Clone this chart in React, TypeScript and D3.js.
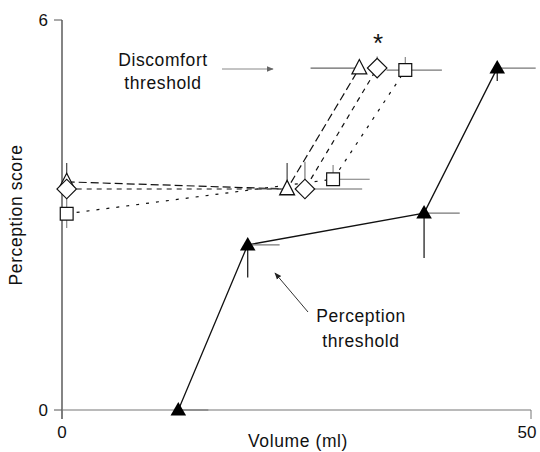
import React from "react";
import * as d3 from "d3";

// ---- data ----
const xTicks = [0, 50];
const yTicks = [0, 6];
const xLabel = "Volume (ml)";
const yLabel = "Perception score";

// Perception threshold (filled triangles)
const percX = [12.4, 19.8, 38.6, 46.4];
const percY = [0, 2.54, 3.03, 5.26];
const percXErrR = [3.2, 3.4, 3.8, 4.1];
const percYErrDown = [0, 0.5, 0.69, 0.2];

// Discomfort series – open triangle
const triX = [0.5, 24.0, 31.7];
const triY = [3.51, 3.4, 5.26];
const triYErrUp = [0.29, 0.4, 0];
const triXErrL = [0, 3.5, 5.2];

// Discomfort series – open diamond
const diaX = [0.5, 25.9, 33.6];
const diaY = [3.4, 3.4, 5.26];
const diaYErrUp = [0, 0.42, 0.18];
const diaXErrR = [0, 6.1, 0];

// Discomfort series – open square
const sqX = [0.5, 28.9, 36.6];
const sqY = [3.02, 3.55, 5.23];
const sqYErrUp = [0.38, 0.22, 0.2];
const sqYErrDown = [0.22, 0, 0];
const sqXErrR = [0, 3.9, 3.9];
const sqXErrL = [0, 0, 2.0];

const W = 540;
const H = 452;

const x = d3.scaleLinear().domain([0, 50]).range([62, 531]);
const y = d3.scaleLinear().domain([0, 6]).range([410, 20]);

const font = "'Liberation Sans', Arial, Helvetica, sans-serif";

type Pt = [number, number];
const zip = (a: number[], b: number[]): Pt[] => a.map((v, i) => [v, b[i]]);
const lineGen = d3
  .line<Pt>()
  .x((d) => x(d[0]))
  .y((d) => y(d[1]));

const triSym = d3.symbol().type(d3.symbolTriangle).size(95)()!;
const filledTriSym = d3.symbol().type(d3.symbolTriangle).size(105)()!;
const sqSym = d3.symbol().type(d3.symbolSquare).size(165)()!;
const diaSym = d3.symbol().type(d3.symbolSquare).size(190)()!;

function ErrorBars({
  xs,
  ys,
  up,
  down,
  left,
  right,
  vColor,
  hColor,
}: {
  xs: number[];
  ys: number[];
  up?: number[];
  down?: number[];
  left?: number[];
  right?: number[];
  vColor: string;
  hColor: string;
}) {
  return (
    <g>
      {xs.map((xv, i) => {
        const yv = ys[i];
        const els: React.ReactNode[] = [];
        const u = up ? up[i] : 0;
        const dn = down ? down[i] : 0;
        const l = left ? left[i] : 0;
        const r = right ? right[i] : 0;
        if (u || dn)
          els.push(
            <line
              key="v"
              x1={x(xv)}
              x2={x(xv)}
              y1={y(yv + u)}
              y2={y(yv - dn)}
              stroke={vColor}
              strokeWidth={1.2}
            />
          );
        if (l || r)
          els.push(
            <line
              key="h"
              x1={x(xv - l)}
              x2={x(xv + r)}
              y1={y(yv)}
              y2={y(yv)}
              stroke={hColor}
              strokeWidth={1.2}
            />
          );
        return <g key={i}>{els}</g>;
      })}
    </g>
  );
}

export default function App() {
  const triPts = zip(triX, triY);
  const diaPts = zip(diaX, diaY);
  const sqPts = zip(sqX, sqY);
  const percPts = zip(percX, percY);
  const txt = { fill: "#111", letterSpacing: 0.6 } as const;

  return (
    <svg
      width={W}
      height={H}
      style={{ position: "absolute", left: 0, top: 0, background: "#fff" }}
      fontFamily={font}
    >
      <defs>
        <marker
          id="ahGray"
          viewBox="0 0 10 10"
          refX="9"
          refY="5"
          markerWidth="7"
          markerHeight="7"
          orient="auto"
        >
          <path d="M0,1 L10,5 L0,9 z" fill="#666" />
        </marker>
        <marker
          id="ahDark"
          viewBox="0 0 10 10"
          refX="9"
          refY="5"
          markerWidth="7"
          markerHeight="7"
          orient="auto"
        >
          <path d="M0,1 L10,5 L0,9 z" fill="#222" />
        </marker>
      </defs>

      {/* axes */}
      <line x1={x(0)} x2={x(0)} y1={y(6)} y2={y(0) + 9} stroke="#333" strokeWidth={1.2} />
      <line x1={x(0)} x2={x(50)} y1={y(0)} y2={y(0)} stroke="#777" strokeWidth={1.2} />
      {yTicks.map((t) => (
        <g key={"yt" + t}>
          <line x1={x(0) - 8} x2={x(0)} y1={y(t)} y2={y(t)} stroke="#555" strokeWidth={1} />
          <text x={x(0) - 14} y={y(t)} dy="0.35em" textAnchor="end" fontSize={17} fill="#111">
            {t}
          </text>
        </g>
      ))}
      {xTicks.map((t) => (
        <g key={"xt" + t}>
          <line x1={x(t)} x2={x(t)} y1={y(0)} y2={y(0) + 9} stroke="#777" strokeWidth={1} />
          <text
            x={t === 50 ? x(t) - 4 : x(t)}
            y={y(0) + 28}
            textAnchor="middle"
            fontSize={17}
            fill="#111"
          >
            {t}
          </text>
        </g>
      ))}
      <text x={298} y={447} textAnchor="middle" fontSize={17.5} {...txt}>
        {xLabel}
      </text>
      <text
        transform="translate(22,215) rotate(-90)"
        textAnchor="middle"
        fontSize={17.5}
        {...txt}
      >
        {yLabel}
      </text>

      {/* connecting lines */}
      <path d={lineGen(triPts)!} fill="none" stroke="#111" strokeWidth={1.2} strokeDasharray="8,4" />
      <path d={lineGen(diaPts)!} fill="none" stroke="#111" strokeWidth={1.2} strokeDasharray="5,5" />
      <path d={lineGen(sqPts)!} fill="none" stroke="#111" strokeWidth={1.2} strokeDasharray="3,7" />
      <path d={lineGen(percPts)!} fill="none" stroke="#111" strokeWidth={1.3} />

      {/* error bars */}
      <ErrorBars xs={triX} ys={triY} up={triYErrUp} left={triXErrL} vColor="#444" hColor="#666" />
      <ErrorBars xs={diaX} ys={diaY} up={diaYErrUp} right={diaXErrR} vColor="#777" hColor="#666" />
      <ErrorBars
        xs={sqX}
        ys={sqY}
        up={sqYErrUp}
        down={sqYErrDown}
        left={sqXErrL}
        right={sqXErrR}
        vColor="#888"
        hColor="#777"
      />
      <ErrorBars
        xs={percX}
        ys={percY}
        down={percYErrDown}
        right={percXErrR}
        vColor="#111"
        hColor="#777"
      />

      {/* markers */}
      {triPts.map((d, i) => (
        <path
          key={"t" + i}
          d={triSym}
          transform={`translate(${x(d[0])},${y(d[1]) + 1}) scale(1,1.12)`}
          fill="#fff"
          stroke="#111"
          strokeWidth={1.2}
        />
      ))}
      {diaPts.map((d, i) => (
        <path
          key={"d" + i}
          d={diaSym}
          transform={`translate(${x(d[0])},${y(d[1])}) rotate(45)`}
          fill="#fff"
          stroke="#111"
          strokeWidth={1.2}
        />
      ))}
      {sqPts.map((d, i) => (
        <path
          key={"s" + i}
          d={sqSym}
          transform={`translate(${x(d[0])},${y(d[1])})`}
          fill="#fff"
          stroke="#111"
          strokeWidth={1.2}
        />
      ))}
      {percPts.map((d, i) => (
        <path
          key={"p" + i}
          d={filledTriSym}
          transform={`translate(${x(d[0])},${y(d[1]) + 1})`}
          fill="#000"
        />
      ))}

      {/* annotations */}
      <text x={378} y={52} textAnchor="middle" fontSize={26} fill="#111">
        *
      </text>
      <text x={163} y={66} textAnchor="middle" fontSize={17.5} {...txt}>
        Discomfort
      </text>
      <text x={163} y={89} textAnchor="middle" fontSize={17.5} {...txt}>
        threshold
      </text>
      <line x1={222} x2={273} y1={69} y2={69} stroke="#888" strokeWidth={1} markerEnd="url(#ahGray)" />

      <text x={361} y={322} textAnchor="middle" fontSize={17.5} {...txt}>
        Perception
      </text>
      <text x={361} y={347} textAnchor="middle" fontSize={17.5} {...txt}>
        threshold
      </text>
      <line x1={308} x2={275} y1={312} y2={273} stroke="#333" strokeWidth={1} markerEnd="url(#ahDark)" />
    </svg>
  );
}
